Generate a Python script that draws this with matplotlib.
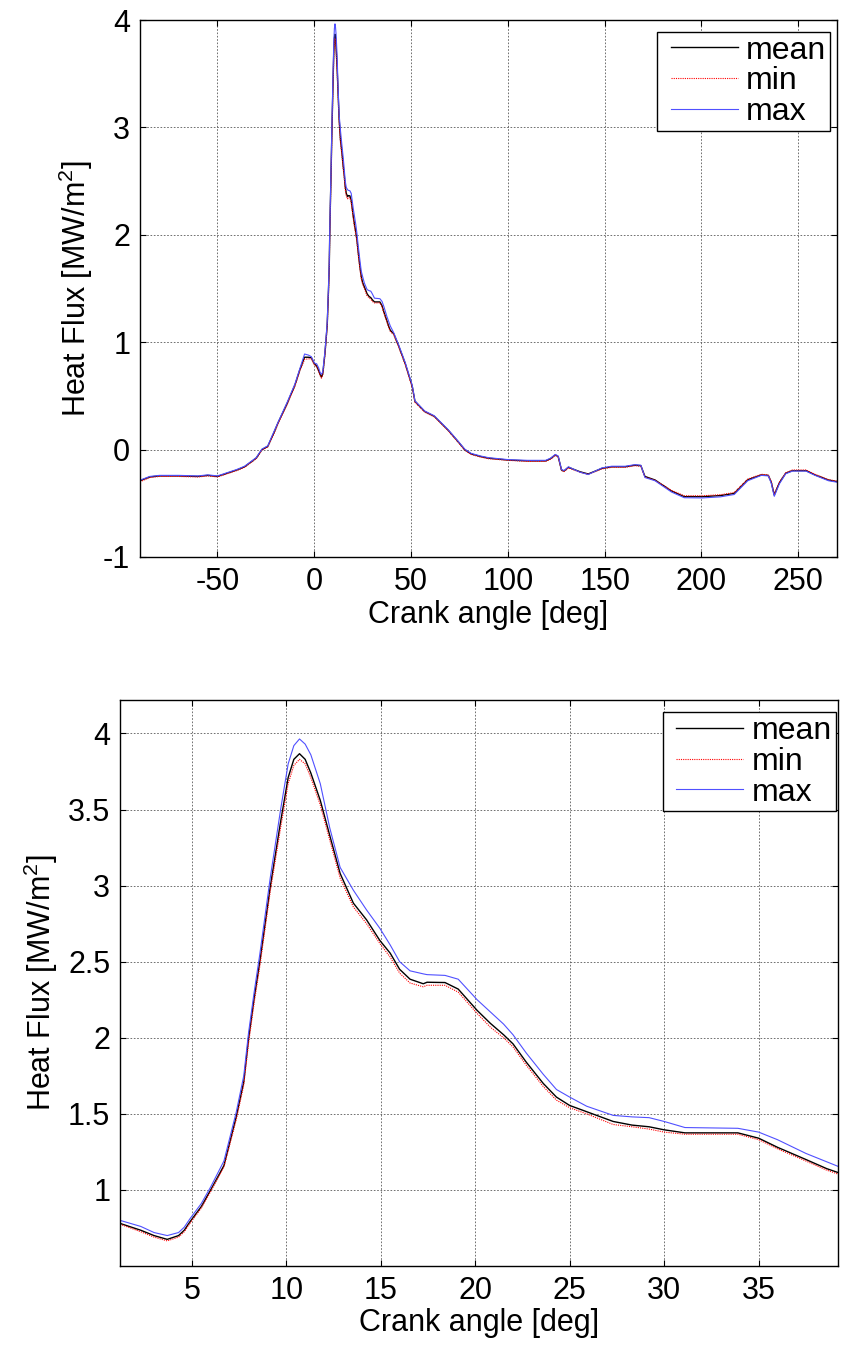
"""
Heat flux vs crank angle: full cycle view and zoom on the combustion peak
"""

import matplotlib
matplotlib.use('Agg')
import matplotlib.pyplot as plt
from matplotlib.lines import Line2D
from matplotlib.legend_handler import HandlerLine2D
from matplotlib.ticker import FormatStrFormatter

plt.rcParams['font.family'] = ['Liberation Sans', 'DejaVu Sans']
plt.rcParams['mathtext.default'] = 'regular'
plt.rcParams['axes.unicode_minus'] = False

# ---- zoomed window (also used for the peak region of the full view) ----
ca_zoom = [1.2, 2.3, 3.0, 3.7, 4.3, 4.6, 4.9, 5.5, 6.0, 6.7, 7.35, 7.75, 8.0, 8.3,
           8.6, 9.15, 9.7, 10.1, 10.4, 10.7, 11.0, 11.3, 11.8, 12.3, 12.85, 13.55,
           14.25, 14.95, 15.5, 16.0, 16.55, 17.25, 17.45, 18.4, 19.1, 20.1, 20.8,
           21.5, 22.0, 22.7, 23.6, 24.3, 25.0, 25.9, 27.3, 28.3, 29.2, 30.0, 31.1,
           33.9, 35.0, 36.0, 37.5, 38.6, 39.3]
hf_mean_zoom = [0.78, 0.735, 0.70, 0.675, 0.70, 0.735, 0.79, 0.89, 1.00, 1.16, 1.48,
                1.71, 1.99, 2.26, 2.50, 2.99, 3.42, 3.71, 3.83, 3.867, 3.83, 3.74,
                3.56, 3.33, 3.08, 2.885, 2.775, 2.64, 2.556, 2.45, 2.385, 2.355,
                2.365, 2.363, 2.32, 2.18, 2.095, 2.02, 1.96, 1.84, 1.70, 1.61, 1.555,
                1.514, 1.45, 1.426, 1.415, 1.395, 1.375, 1.375, 1.34, 1.28, 1.20,
                1.14, 1.11]
hf_min_zoom = [0.775, 0.725, 0.69, 0.665, 0.69, 0.725, 0.78, 0.88, 0.99, 1.15, 1.46,
               1.69, 1.96, 2.23, 2.47, 2.96, 3.38, 3.67, 3.79, 3.83, 3.80, 3.71,
               3.53, 3.30, 3.05, 2.86, 2.75, 2.62, 2.53, 2.425, 2.36, 2.335, 2.345,
               2.345, 2.30, 2.16, 2.07, 2.00, 1.94, 1.82, 1.68, 1.59, 1.54, 1.50,
               1.43, 1.415, 1.40, 1.38, 1.366, 1.366, 1.33, 1.27, 1.19, 1.13, 1.10]
hf_max_zoom = [0.80, 0.76, 0.72, 0.70, 0.72, 0.755, 0.81, 0.91, 1.02, 1.19, 1.51,
               1.75, 2.03, 2.30, 2.55, 3.05, 3.50, 3.80, 3.92, 3.964, 3.93, 3.86,
               3.67, 3.38, 3.12, 2.97, 2.84, 2.72, 2.61, 2.50, 2.44, 2.42, 2.415,
               2.41, 2.385, 2.25, 2.17, 2.09, 2.02, 1.90, 1.76, 1.66, 1.61, 1.55,
               1.49, 1.48, 1.475, 1.45, 1.41, 1.405, 1.38, 1.33, 1.24, 1.185, 1.15]

# ---- full cycle, part before the zoom window ----
ca_left = [-90, -85, -80, -70, -60, -55, -50, -45, -40, -36, -30, -27, -24, -21,
           -18.8, -14, -10, -7.5, -5, -3, -1.5, 0, 0.6]
hf_mean_left = [-0.29, -0.255, -0.245, -0.245, -0.25, -0.24, -0.25, -0.22, -0.19,
                -0.16, -0.08, 0.0, 0.03, 0.15, 0.245, 0.43, 0.60, 0.74, 0.86, 0.86,
                0.855, 0.80, 0.79]
hf_min_left = [-0.30, -0.26, -0.25, -0.25, -0.255, -0.245, -0.255, -0.225, -0.195,
               -0.165, -0.085, -0.005, 0.025, 0.14, 0.235, 0.42, 0.59, 0.73, 0.84,
               0.845, 0.845, 0.79, 0.78]
hf_max_left = [-0.285, -0.25, -0.24, -0.24, -0.245, -0.235, -0.245, -0.215, -0.185,
               -0.155, -0.075, 0.005, 0.035, 0.16, 0.25, 0.44, 0.61, 0.75, 0.89,
               0.88, 0.865, 0.81, 0.80]

# ---- full cycle, part after the zoom window ----
ca_right = [41, 43.5, 47, 50.6, 52, 57, 62, 69.2, 74, 77.7, 81, 86, 90, 100, 110,
            119.5, 122, 124.5, 126, 127.7, 129, 131.3, 137.2, 141.5, 148.6, 153.6,
            160.6, 165.6, 168.7, 170.8, 176, 184.5, 191.1, 200.5, 209.8, 216.9,
            223.9, 230.9, 234.5, 236, 237.6, 240.2, 243.5, 247, 254, 258.7, 265.6,
            270.5]
hf_mean_right = [1.08, 0.97, 0.80, 0.59, 0.45, 0.355, 0.31, 0.18, 0.08, 0.0, -0.04,
                 -0.065, -0.08, -0.097, -0.105, -0.105, -0.085, -0.05, -0.065, -0.19,
                 -0.20, -0.165, -0.206, -0.227, -0.175, -0.16, -0.16, -0.145, -0.15,
                 -0.25, -0.283, -0.385, -0.438, -0.438, -0.428, -0.408, -0.28, -0.236,
                 -0.24, -0.30, -0.423, -0.31, -0.22, -0.196, -0.196, -0.236, -0.283,
                 -0.30]
hf_min_right = [1.07, 0.96, 0.79, 0.58, 0.44, 0.35, 0.305, 0.175, 0.075, -0.005,
                -0.045, -0.07, -0.085, -0.1, -0.11, -0.11, -0.09, -0.055, -0.07,
                -0.195, -0.205, -0.17, -0.21, -0.23, -0.18, -0.165, -0.165, -0.15,
                -0.155, -0.255, -0.285, -0.38, -0.43, -0.43, -0.42, -0.40, -0.275,
                -0.23, -0.235, -0.295, -0.415, -0.305, -0.215, -0.19, -0.19, -0.23,
                -0.28, -0.295]
hf_max_right = [1.09, 0.98, 0.81, 0.60, 0.455, 0.36, 0.315, 0.185, 0.085, 0.005,
                -0.035, -0.06, -0.075, -0.093, -0.1, -0.1, -0.08, -0.045, -0.06,
                -0.185, -0.195, -0.16, -0.21, -0.232, -0.17, -0.155, -0.155, -0.14,
                -0.145, -0.26, -0.29, -0.395, -0.448, -0.45, -0.44, -0.418, -0.29,
                -0.24, -0.245, -0.31, -0.435, -0.32, -0.225, -0.2, -0.2, -0.24, -0.29,
                -0.305]

ca_full = ca_left + ca_zoom + ca_right
hf_mean_full = hf_mean_left + hf_mean_zoom + hf_mean_right
hf_min_full = hf_min_left + hf_min_zoom + hf_min_right
hf_max_full = hf_max_left + hf_max_zoom + hf_max_right

xticks_full = [-50, 0, 50, 100, 150, 200, 250]
yticks_full = [-1, 0, 1, 2, 3, 4]
xticks_zoom = [5, 10, 15, 20, 25, 30, 35]
yticks_zoom = [1, 1.5, 2, 2.5, 3, 3.5, 4]

FS = 22


def style_axes(ax):
    ax.grid(True, color='0.35', linestyle=(0, (2, 2)), linewidth=0.6)
    ax.tick_params(direction='in', top=True, right=True, length=4, width=0.8,
                   labelsize=FS, pad=7)
    for s in ax.spines.values():
        s.set_linewidth(1.0)
    ax.set_xlabel('Crank angle [deg]', fontsize=FS, labelpad=2)
    ax.set_ylabel('Heat Flux [MW/m$^2$]', fontsize=FS, labelpad=6)


def draw(ax, x, m, lo, hi):
    ax.plot(x, m, color='k', linewidth=1.0, label='mean')
    ax.plot(x, lo, color='r', linewidth=0.8, linestyle=(0, (1, 1)), label='min')
    ax.plot(x, hi, color='#5050ff', linewidth=0.8, label='max')


def add_legend(ax, anchor):
    # MATLAB 风格图例：方框、线段左侧留白
    leg = ax.legend(loc='upper right', bbox_to_anchor=anchor, borderaxespad=0,
                    fontsize=23, handlelength=2.4, handletextpad=0.26,
                    labelspacing=0.02, borderpad=0.12, fancybox=False,
                    framealpha=1, edgecolor='k',
                    handler_map={Line2D: HandlerLine2D(xpad=0.3)})
    leg.get_frame().set_linewidth(1.0)


fig = plt.figure(figsize=(8.44, 13.55), dpi=100)
ax1 = fig.add_axes([140 / 844, 1 - 557 / 1355, 697 / 844, 537 / 1355])
ax2 = fig.add_axes([120 / 844, 1 - 1266 / 1355, 718 / 844, 566 / 1355])

# 全周期
draw(ax1, ca_full, hf_mean_full, hf_min_full, hf_max_full)
ax1.set_xlim(-90, 270)
ax1.set_ylim(-1, 4)
ax1.set_xticks(xticks_full)
ax1.set_yticks(yticks_full)
style_axes(ax1)
add_legend(ax1, (0.99, 0.978))

# 峰值放大
draw(ax2, ca_zoom, hf_mean_zoom, hf_min_zoom, hf_max_zoom)
ax2.set_xlim(1.2, 39.2)
ax2.set_ylim(0.5, 4.22)
ax2.set_xticks(xticks_zoom)
ax2.set_yticks(yticks_zoom)
ax2.yaxis.set_major_formatter(FormatStrFormatter('%g'))
style_axes(ax2)
add_legend(ax2, (0.997, 0.978))

fig.savefig('out.png', dpi=100)
